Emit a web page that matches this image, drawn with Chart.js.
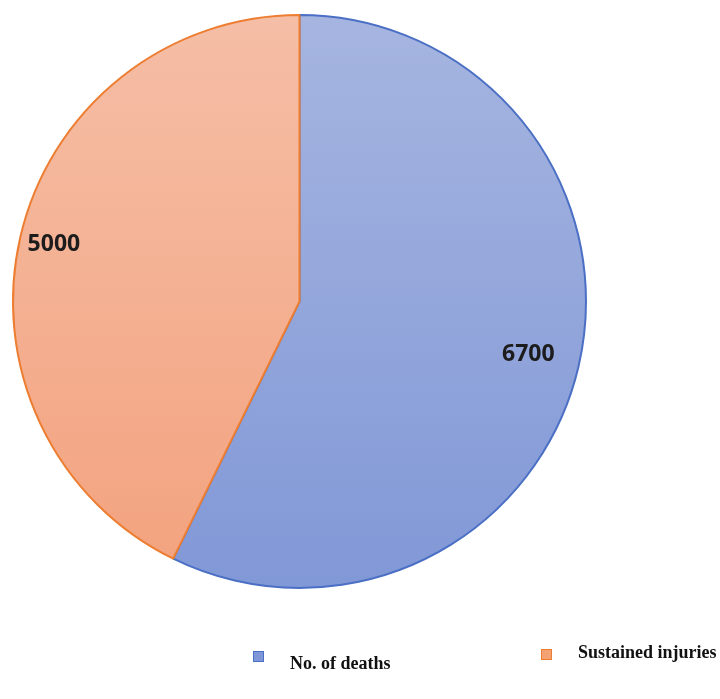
<!DOCTYPE html>
<html>
<head>
<meta charset="utf-8">
<script src="https://cdn.jsdelivr.net/npm/chart.js@4.4.1/dist/chart.umd.min.js"></script>
<style>
  html, body { margin: 0; padding: 0; background: #ffffff; }
  #wrap { position: relative; width: 720px; height: 699px; }
</style>
</head>
<body>
<div id="wrap"><canvas id="pieChart" width="720" height="699"></canvas></div>
<script>
const categories = ['No. of deaths', 'Sustained injuries'];
const values = [6700, 5000];

const fillTop = ['#a6b5e0', '#f5bea6'];
const fillBottom = ['#8198d7', '#f3a27e'];
const borderColors = ['#4a6fc4', '#ed7d31'];
const legendSwatch = ['#7f97d9', '#f4a273'];

function sliceGradient(context) {
    const chart = context.chart;
    const area = chart.chartArea;
    if (!area) return fillTop[context.dataIndex];
    const g = chart.ctx.createLinearGradient(0, area.top, 0, area.bottom);
    g.addColorStop(0, fillTop[context.dataIndex]);
    g.addColorStop(1, fillBottom[context.dataIndex]);
    return g;
}

// value labels placed along each slice's middle angle
const sliceLabels = {
    id: 'sliceLabels',
    afterDatasetsDraw(chart, args, opts) {
        const ctx = chart.ctx;
        const meta = chart.getDatasetMeta(0);
        ctx.save();
        ctx.font = 'bold 23px "Open Sans", "DejaVu Sans", sans-serif';
        ctx.fillStyle = '#1c1c1c';
        ctx.textAlign = 'center';
        ctx.textBaseline = 'middle';
        meta.data.forEach((arc, i) => {
            const p = arc.getProps(['x', 'y', 'startAngle', 'endAngle', 'outerRadius']);
            const mid = (p.startAngle + p.endAngle) / 2;
            const r = p.outerRadius * opts.dist[i];
            ctx.fillText(String(values[i]), p.x + Math.cos(mid) * r, p.y + Math.sin(mid) * r);
        });
        ctx.restore();
    }
};

// legend drawn below the pie
const bottomLegend = {
    id: 'bottomLegend',
    afterDraw(chart, args, opts) {
        const ctx = chart.ctx;
        ctx.save();
        ctx.font = 'bold 18px "Liberation Serif", "Times New Roman", serif';
        ctx.textBaseline = 'middle';
        ctx.textAlign = 'left';
        categories.forEach((name, i) => {
            const it = opts.items[i];
            ctx.fillStyle = legendSwatch[i];
            ctx.fillRect(it.bx, it.by, 11, 11);
            ctx.strokeStyle = borderColors[i];
            ctx.lineWidth = 1;
            ctx.strokeRect(it.bx + 0.5, it.by + 0.5, 10, 10);
            ctx.fillStyle = '#111111';
            ctx.fillText(name, it.tx, it.ty);
        });
        ctx.restore();
    }
};

new Chart(document.getElementById('pieChart').getContext('2d'), {
    type: 'pie',
    data: {
        labels: categories,
        datasets: [{
            data: values,
            backgroundColor: sliceGradient,
            borderColor: borderColors,
            borderWidth: 2
        }]
    },
    options: {
        responsive: false,
        animation: false,
        layout: {
            padding: { top: 14, bottom: 110, left: 11, right: 132 }
        },
        plugins: {
            legend: { display: false },
            tooltip: { enabled: false },
            sliceLabels: { dist: [0.82, 0.88] },
            bottomLegend: {
                items: [
                    { bx: 253, by: 651, tx: 290, ty: 664 },
                    { bx: 541, by: 649, tx: 578, ty: 653 }
                ]
            }
        }
    },
    plugins: [sliceLabels, bottomLegend]
});
</script>
</body>
</html>
